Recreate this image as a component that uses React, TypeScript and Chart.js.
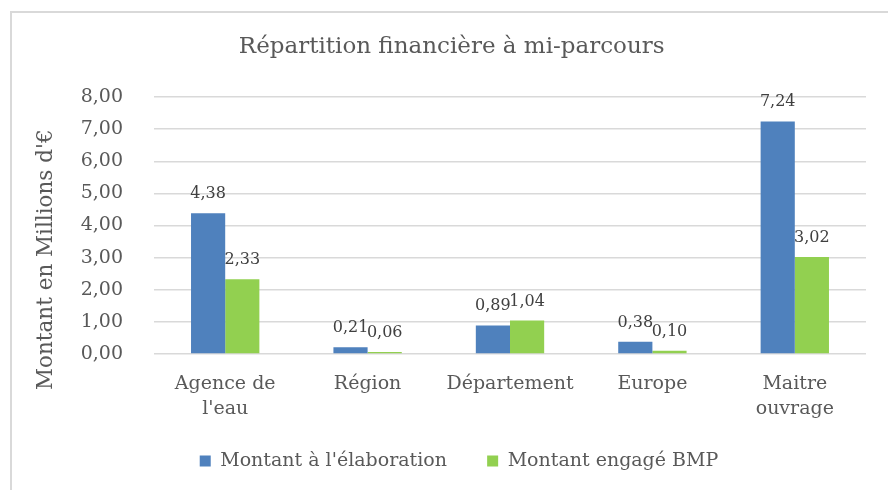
import React, { useEffect, useRef } from "react";
import { Chart, registerables } from "chart.js";

Chart.register(...registerables);

const categories: (string | string[])[] = [
  ["Agence de", "l'eau"],
  "Région",
  "Département",
  "Europe",
  ["Maitre", "ouvrage"],
];
const seriesNames = ["Montant à l'élaboration", "Montant engagé BMP"];
const montantElaboration = [4.38, 0.21, 0.89, 0.38, 7.24];
const montantEngage = [2.33, 0.06, 1.04, 0.1, 3.02];
const yMin = 0;
const yMax = 8;
const yStep = 1;

const chartTitle = "Répartition financière à mi-parcours";
const yTitle = "Montant en Millions d'€";

const FONT = "'DejaVu Serif', 'Liberation Serif', serif";
const TEXT = "#595959";
const BLUE = "#4F81BD";
const GREEN = "#92D050";
const GRID = "#D9D9D9";

const fmt = (v: number) => v.toFixed(2).replace(".", ",");

const valueLabels = {
  id: "valueLabels",
  afterDatasetsDraw(chart: any) {
    const ctx = chart.ctx;
    ctx.save();
    ctx.font = `16px ${FONT}`;
    ctx.fillStyle = "#404040";
    ctx.textAlign = "center";
    ctx.textBaseline = "alphabetic";
    chart.data.datasets.forEach((ds: any, i: number) => {
      const meta = chart.getDatasetMeta(i);
      meta.data.forEach((bar: any, j: number) => {
        ctx.fillText(fmt(ds.data[j]), bar.x, bar.y - 15);
      });
    });
    ctx.restore();
  },
};

export default function App() {
  const ref = useRef<HTMLCanvasElement | null>(null);

  useEffect(() => {
    if (!ref.current) return;
    const chart = new Chart(ref.current, {
      type: "bar",
      data: {
        labels: categories,
        datasets: [
          {
            label: seriesNames[0],
            data: montantElaboration,
            backgroundColor: BLUE,
            categoryPercentage: 0.48,
            barPercentage: 1.0,
          },
          {
            label: seriesNames[1],
            data: montantEngage,
            backgroundColor: GREEN,
            categoryPercentage: 0.48,
            barPercentage: 1.0,
          },
        ],
      },
      options: {
        responsive: false,
        animation: false,
        devicePixelRatio: 1,
        layout: { padding: { top: 20, left: 52, right: 22, bottom: 9.5 } },
        plugins: {
          title: {
            display: true,
            text: chartTitle + "\u00A0\u00A0",
            color: TEXT,
            font: { family: FONT, size: 23, weight: "normal", lineHeight: 1.2 },
            padding: { top: 13.2, bottom: 36.2 },
          },
          legend: {
            position: "bottom",
            labels: {
              boxWidth: 11,
              boxHeight: 11,
              padding: 10,
              color: TEXT,
              font: { family: FONT, size: 19 },
              generateLabels: (c: any) => {
                const items = Chart.defaults.plugins.legend.labels.generateLabels(c);
                items.forEach((it: any, i: number) => {
                  if (i < items.length - 1) it.text = it.text + "\u00A0".repeat(5);
                });
                return items;
              },
            },
          },
          tooltip: { enabled: false },
        },
        scales: {
          x: {
            grid: { display: false, drawTicks: false },
            border: { display: false },
            ticks: {
              color: TEXT,
              font: { family: FONT, size: 19, lineHeight: 1.3 },
              padding: 18,
              maxRotation: 0,
              autoSkip: false,
            },
            afterFit: (s: any) => {
              s.height = 87.5;
            },
          },
          y: {
            min: yMin,
            max: yMax,
            grid: { color: GRID, lineWidth: 1.5, drawTicks: false },
            border: { display: false },
            ticks: {
              stepSize: yStep,
              color: TEXT,
              font: { family: FONT, size: 19 },
              padding: 31,
              callback: (v: any) => fmt(Number(v)),
            },
            title: {
              display: true,
              text: yTitle + "\u00A0".repeat(10),
              color: TEXT,
              font: { family: FONT, size: 21.5, lineHeight: 1.2 },
              padding: { top: -18.9, bottom: 0 },
            },
            afterFit: (s: any) => {
              s.width = 102;
            },
          },
        },
      },
      plugins: [valueLabels],
    });
    return () => chart.destroy();
  }, []);

  return (
    <div
      style={{
        position: "fixed",
        left: 0,
        top: 0,
        width: 888,
        height: 490,
        background: "#fff",
        overflow: "hidden",
      }}
    >
      <div
        style={{
          position: "absolute",
          left: 10,
          top: 11,
          width: 900,
          height: 520,
          border: `2px solid ${GRID}`,
        }}
      />
      <canvas
        ref={ref}
        width={888}
        height={490}
        style={{ position: "absolute", left: 0, top: 0, width: 888, height: 490 }}
      />
    </div>
  );
}
